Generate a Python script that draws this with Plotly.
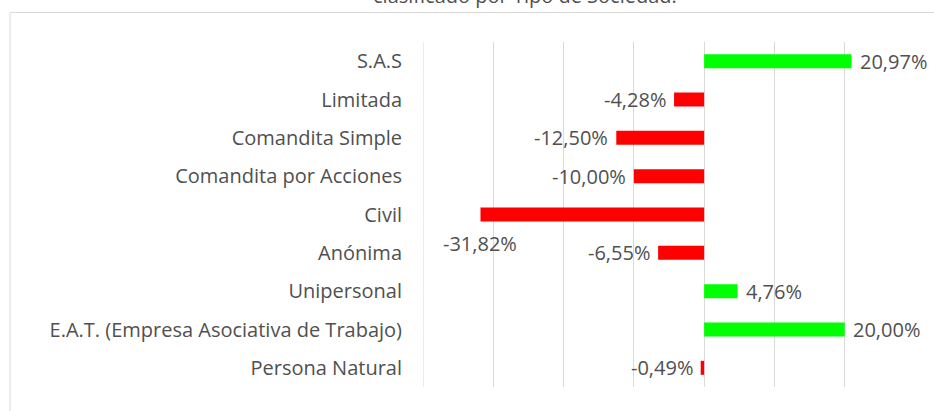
import plotly.graph_objects as go

categories = ["S.A.S", "Limitada", "Comandita Simple", "Comandita por Acciones", "Civil",
              "Anónima", "Unipersonal", "E.A.T. (Empresa Asociativa de Trabajo)", "Persona Natural"]
values = [20.97, -4.28, -12.50, -10.00, -31.82, -6.55, 4.76, 20.00, -0.49]
title_text = "clasificado por Tipo de Sociedad."

FONT = "Open Sans"
FS = 20
TXT = "#505050"
colors = ["#00FF00" if v >= 0 else "#FF0000" for v in values]

fig = go.Figure(go.Bar(
    x=values, y=categories, orientation="h",
    marker=dict(color=colors, line=dict(width=0)),
    width=0.365, hoverinfo="skip",
))

def fmt(v):
    return f"{v:.2f}".replace(".", ",") + "%"

annotations = []
for c, v in zip(categories, values):
    if c == "Civil":
        annotations.append(dict(x=v, y=c, text=fmt(v), showarrow=False, xanchor="center",
                                yanchor="middle", yshift=-29, font=dict(family=FONT, size=FS, color=TXT)))
    else:
        annotations.append(dict(x=v, y=c, text=fmt(v), showarrow=False,
                                xanchor="left" if v >= 0 else "right", yanchor="middle",
                                xshift=6 if v >= 0 else -6,
                                font=dict(family=FONT, size=FS, color=TXT)))

annotations.append(dict(x=(525 - 423) / 492, y=1, xref="paper", yref="paper", text=title_text,
                        showarrow=False, xanchor="center", yanchor="bottom", yshift=31,
                        font=dict(family=FONT, size=20, color=TXT)))

fig.update_layout(
    width=934, height=411,
    margin=dict(l=423, r=19, t=42, b=24),
    paper_bgcolor="white", plot_bgcolor="white",
    showlegend=False,
    font=dict(family=FONT, size=FS, color=TXT),
    xaxis=dict(range=[-40, 30], dtick=10, tick0=0, showgrid=True, gridcolor="#D9D9D9", gridwidth=1,
               zeroline=True, zerolinecolor="#D9D9D9", zerolinewidth=1,
               showticklabels=False, showline=False, ticks="", fixedrange=True),
    yaxis=dict(categoryorder="array", categoryarray=categories[::-1], showgrid=False,
               ticks="", ticklabelstandoff=20, showline=False,
               tickfont=dict(family=FONT, size=FS, color=TXT), fixedrange=True),
    annotations=annotations,
    shapes=[
        dict(type="rect", xref="paper", yref="paper",
             x0=(10 - 423) / 492, x1=1.2, y0=-0.3, y1=(387 - 12.5) / 345,
             line=dict(color="#D9D9D9", width=1), fillcolor="rgba(0,0,0,0)", layer="below"),
        dict(type="line", xref="x", yref="paper", x0=-40, x1=-40, y0=0, y1=1,
             line=dict(color="#D9D9D9", width=1), layer="below"),
    ],
)

fig.write_html("out.html", config={"displayModeBar": False},
               post_script="document.body.style.margin='0';document.body.style.overflow='hidden';")
